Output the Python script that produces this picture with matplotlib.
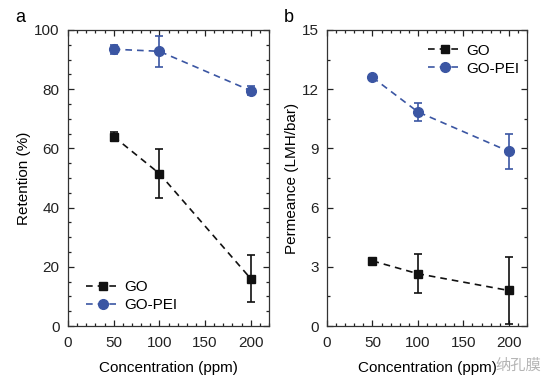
import matplotlib
matplotlib.use("Agg")
import matplotlib.pyplot as plt
from matplotlib.ticker import MultipleLocator
from matplotlib.lines import Line2D

plt.rcParams['font.family'] = ['Liberation Sans', 'DejaVu Sans']

conc = [50, 100, 200]
ret_go = [64.0, 51.5, 16.0]
ret_go_err = [1.5, 8.2, 8.0]
ret_pei = [93.5, 92.8, 79.5]
ret_pei_err = [1.5, 5.2, 1.5]

perm_go = [3.3, 2.65, 1.8]
perm_go_err = [0.1, 1.0, 1.7]
perm_pei = [12.6, 10.85, 8.85]
perm_pei_err = [0.12, 0.45, 0.9]

labels = ['GO', 'GO-PEI']

BLUE = '#3b56a3'
BLACK = '#111111'
FS = 11
DASH = (0, (4, 3))

fig = plt.figure(figsize=(5.58, 3.91), dpi=100)
axa = fig.add_axes([0.1219, 0.1662, 0.3602, 0.7571])
axb = fig.add_axes([0.586, 0.1662, 0.3584, 0.7571])

def style(ax):
    ax.tick_params(which='both', direction='in', top=True, right=True,
                   labelsize=FS, colors='#222222', width=0.9)
    ax.tick_params(axis='x', which='major', pad=7)
    ax.tick_params(axis='y', which='major', pad=6)
    ax.tick_params(which='major', length=4)
    ax.tick_params(which='minor', length=2.2)
    for s in ax.spines.values():
        s.set_linewidth(0.9)
        s.set_color('#333333')
    ax.set_xlim(0, 220)
    ax.xaxis.set_major_locator(MultipleLocator(50))
    ax.xaxis.set_minor_locator(MultipleLocator(10))
    ax.set_xlabel('Concentration (ppm)', fontsize=FS, labelpad=8)

def series(ax, y, e, color, marker, ms):
    ax.errorbar(conc, y, yerr=e, color=color, marker=marker, markersize=ms,
                linestyle=DASH, linewidth=1.2, capsize=3,
                elinewidth=1.2, capthick=1.2)

handles = [Line2D([], [], color=BLACK, marker='s', markersize=6,
                  linestyle=DASH, linewidth=1.2),
           Line2D([], [], color=BLUE, marker='o', markersize=7,
                  linestyle=DASH, linewidth=1.2)]

series(axa, ret_go, ret_go_err, BLACK, 's', 6)
series(axa, ret_pei, ret_pei_err, BLUE, 'o', 7)
style(axa)
axa.set_ylim(0, 100)
axa.yaxis.set_major_locator(MultipleLocator(20))
axa.yaxis.set_minor_locator(MultipleLocator(5))
axa.set_ylabel('Retention (%)', fontsize=FS, labelpad=2)
axa.legend(handles, labels, loc='lower left', bbox_to_anchor=(0.02, 0.0),
           frameon=False, fontsize=FS, handlelength=2.2, handletextpad=0.3,
           labelspacing=0.25)

series(axb, perm_go, perm_go_err, BLACK, 's', 6)
series(axb, perm_pei, perm_pei_err, BLUE, 'o', 7)
style(axb)
axb.set_ylim(0, 15)
axb.yaxis.set_major_locator(MultipleLocator(3))
axb.yaxis.set_minor_locator(MultipleLocator(1.5))
axb.set_ylabel('Permeance (LMH/bar)', fontsize=FS, labelpad=2)
axb.legend(handles, labels, loc='upper right', bbox_to_anchor=(1.03, 1.0),
           frameon=False, fontsize=FS, handlelength=2.2, handletextpad=0.3,
           labelspacing=0.25)

fig.text(0.027, 0.955, 'a', fontsize=13, va='center', ha='left')
fig.text(0.508, 0.955, 'b', fontsize=13, va='center', ha='left')
fig.text(0.97, 0.065, '纳孔膜', fontsize=11, color='#b5b5b5', ha='right',
         va='center', family=['Noto Sans CJK SC', 'DejaVu Sans'])

fig.savefig('out.png', dpi=100)
